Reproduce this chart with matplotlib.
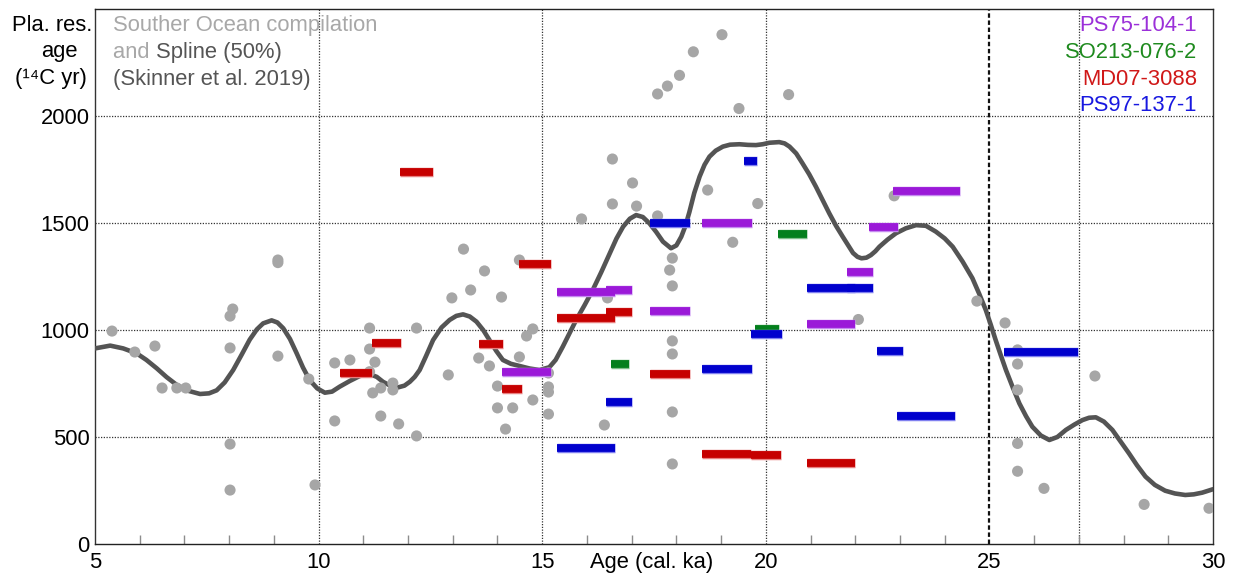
import matplotlib
matplotlib.use("Agg")
import matplotlib.pyplot as plt
import matplotlib.patheffects as pe
from matplotlib.ticker import MultipleLocator

# ---------------- data ----------------
dots_x = [5.38, 5.89, 6.34, 6.50, 6.83, 7.03, 8.02, 8.08, 8.02, 8.02, 8.02, 9.09, 9.09, 9.09,
          9.78, 9.92, 10.36, 10.70, 10.36, 11.14, 11.14, 11.26, 11.14, 11.21, 11.39, 11.39,
          11.66, 11.66, 11.79, 12.19, 12.19, 12.90, 12.98, 13.24, 13.40, 13.58, 13.71, 13.82,
          14.00, 14.00, 14.09, 14.18, 14.34, 14.49, 14.49, 14.65, 14.79, 14.79, 15.14, 15.14,
          15.14, 15.14, 15.88, 16.39, 16.46, 16.57, 16.57, 17.02, 17.11, 17.58, 17.58, 17.80,
          17.85, 17.91, 17.91, 17.91, 17.91, 17.91, 17.91, 18.07, 18.38, 19.02, 19.40, 20.51,
          18.70, 19.26, 19.82, 22.87, 22.07, 24.72, 25.35, 25.63, 25.63, 25.63, 25.63, 25.63,
          26.22, 27.36, 28.46, 29.91]
dots_y = [995, 897, 925, 729, 729, 729, 1065, 1098, 916, 467, 252, 1327, 1315, 878,
          771, 276, 846, 860, 575, 1009, 911, 850, 805, 706, 729, 598,
          752, 720, 561, 1009, 505, 790, 1150, 1378, 1187, 869, 1276, 832,
          738, 636, 1154, 537, 636, 1327, 874, 972, 1005, 673, 799, 734,
          710, 607, 1519, 556, 1150, 1799, 1589, 1687, 1579, 1533, 2103, 2140,
          1280, 1336, 1206, 949, 888, 617, 374, 2190, 2300, 2380, 2035, 2100,
          1654, 1410, 1591, 1627, 1049, 1135, 1033, 907, 841, 720, 470, 340,
          260, 785, 185, 167]

spline_x = [5.0, 5.34, 5.63, 5.93, 6.15, 6.38, 6.6, 6.83, 7.1, 7.35, 7.55, 7.72, 7.9, 8.09, 8.28,
            8.46, 8.62, 8.76, 8.95, 9.08, 9.21, 9.36, 9.51, 9.65, 9.8, 9.97, 10.14, 10.3, 10.47,
            10.7, 10.92, 11.14, 11.3, 11.44, 11.6, 11.78, 11.92, 12.04, 12.15, 12.26, 12.4,
            12.56, 12.75, 12.93, 13.08, 13.23, 13.38, 13.53, 13.68, 13.82, 13.97, 14.12, 14.3,
            14.49, 14.72, 14.94, 15.16, 15.3, 15.46, 15.6, 15.76, 15.95, 16.13, 16.32, 16.51,
            16.66, 16.81, 16.96, 17.1, 17.25, 17.4, 17.55, 17.7, 17.88, 18.0, 18.11, 18.2,
            18.29, 18.4, 18.52, 18.63, 18.74, 18.88, 19.04, 19.2, 19.41, 19.6, 19.78, 19.93,
            20.08, 20.3, 20.42, 20.53, 20.68, 20.82, 20.97, 21.12, 21.27, 21.42, 21.57, 21.72,
            21.85, 21.95, 22.05, 22.14, 22.25, 22.35, 22.45, 22.54, 22.72, 22.91, 23.13, 23.36,
            23.58, 23.8, 24.0, 24.18, 24.4, 24.62, 24.77, 24.92, 25.03, 25.14, 25.25, 25.37,
            25.52, 25.67, 25.82, 25.96, 26.15, 26.34, 26.52, 26.71, 26.9, 27.08, 27.23, 27.38,
            27.56, 27.75, 27.93, 28.12, 28.3, 28.49, 28.7, 28.93, 29.15, 29.38, 29.57, 29.76,
            30.0]
spline_y = [914, 927, 914, 891, 860, 821, 780, 743, 715, 701, 704, 718, 755, 813, 885,
            955, 1003, 1031, 1045, 1035, 1008, 958, 891, 825, 766, 727, 707, 712, 735,
            762, 785, 794, 781, 758, 740, 732, 740, 758, 781, 813, 877,
            953, 1012, 1047, 1066, 1073, 1063, 1039, 1000, 953, 903, 860, 842,
            832, 820, 813, 826, 860, 922, 980, 1047, 1117, 1187, 1270, 1358,
            1427, 1483, 1520, 1537, 1528, 1498, 1458, 1413, 1382, 1395, 1436, 1485,
            1550, 1640, 1717, 1772, 1810, 1838, 1857, 1866, 1868, 1865, 1864, 1868,
            1875, 1878, 1872, 1857, 1825, 1779, 1728, 1670, 1608, 1545, 1487, 1436,
            1393, 1360, 1342, 1335, 1338, 1350, 1368, 1389, 1422, 1452, 1475, 1490,
            1487, 1460, 1428, 1389, 1320, 1242, 1170, 1093, 1025, 953, 885, 813,
            733, 657, 597, 548, 507, 486, 500, 533, 558, 579, 590, 592,
            572, 533, 480, 424, 368, 315, 276, 249, 236, 229, 232, 240,
            256]

# bars: (start, end, value)
purple_x0 = [14.09, 15.34, 16.43, 17.41, 18.57, 20.93, 21.81, 22.31, 22.85]
purple_x1 = [15.19, 16.62, 17.01, 18.31, 19.69, 21.99, 22.40, 22.96, 24.34]
purple_y = [805, 1176, 1185, 1087, 1500, 1029, 1273, 1479, 1650]

green_x0 = [16.54, 19.75, 20.28]
green_x1 = [16.95, 20.29, 20.93]
green_y = [842, 1005, 1450]

red_x0 = [10.47, 11.20, 11.81, 13.58, 14.09, 14.49, 15.34, 16.43, 17.41, 18.57, 19.66, 20.93]
red_x1 = [11.20, 11.85, 12.56, 14.12, 14.54, 15.19, 16.62, 17.01, 18.31, 19.66, 20.35, 21.99]
red_y = [801, 939, 1738, 936, 723, 1307, 1055, 1083, 794, 420, 416, 380]

blue_x0 = [15.34, 16.43, 17.41, 19.52, 18.57, 19.68, 20.93, 21.81, 22.49, 22.94, 25.33]
blue_x1 = [16.62, 17.01, 18.31, 19.80, 19.69, 20.37, 21.99, 22.40, 23.07, 24.22, 26.99]
blue_y = [449, 664, 1499, 1790, 816, 982, 1195, 1195, 904, 600, 896]

series_names = ["PS75-104-1", "SO213-076-2", "MD07-3088", "PS97-137-1"]
x_ticks = [5, 10, 15, 20, 25, 30]
y_ticks = [0, 500, 1000, 1500, 2000]

# ---------------- figure ----------------
W, H = 1244, 578
FONT = ["Liberation Sans", "DejaVu Sans"]
plt.rcParams["font.family"] = FONT
FS = 15.8

fig = plt.figure(figsize=(W / 100, H / 100), dpi=100)
ax = fig.add_axes([95 / W, (H - 544) / H, 1118 / W, 535 / H])
ax.set_xlim(5, 30)
ax.set_ylim(0, 2500)

# grid
for yv in [500, 1000, 1500, 2000]:
    ax.axhline(yv, color="#333333", lw=0.9, ls=(0, (1, 1.2)), zorder=1)
for xv in [10, 15, 20, 27]:
    ax.axvline(xv, color="#333333", lw=0.9, ls=(0, (1, 1.2)), zorder=1)
ax.axvline(25, color="#111111", lw=1.6, ls=(0, (2, 1.2)), zorder=1)

# spline
ax.plot(spline_x, spline_y, color="#545454", lw=3.3, solid_capstyle="round",
        solid_joinstyle="round", zorder=3)

# dots
ax.scatter(dots_x, dots_y, s=64, color="#A6A6A6", edgecolors="none", zorder=4)

# bars
bar_sets = [
    (purple_x0, purple_x1, purple_y, "#9B19D8", "#C58AF0"),
    (green_x0, green_x1, green_y, "#037F1C", "#7FBF8A"),
    (red_x0, red_x1, red_y, "#C60000", "#E88080"),
    (blue_x0, blue_x1, blue_y, "#0000CD", "#8080F0"),
]
for k, (x0, x1, yy, col, edge) in enumerate(bar_sets):
    ax.hlines(yy, x0, x1, colors=col, lw=5.6, capstyle="butt", zorder=5 + k,
              path_effects=[pe.Stroke(linewidth=6.8, foreground=edge, capstyle="butt"),
                            pe.Normal()])

# spines
for s in ["top", "bottom"]:
    ax.spines[s].set_linestyle((0, (1, 1)))
    ax.spines[s].set_color("#222222")
    ax.spines[s].set_linewidth(1.0)
for s in ["left", "right"]:
    ax.spines[s].set_color("#333333")
    ax.spines[s].set_linewidth(1.0)

# ticks
ax.set_xticks(x_ticks)
ax.set_xticklabels([str(v) for v in x_ticks])
ax.set_yticks(y_ticks)
ax.set_yticklabels([str(v) for v in y_ticks])
ax.xaxis.set_minor_locator(MultipleLocator(1))
ax.tick_params(axis="x", which="major", length=0, pad=6, labelsize=FS)
ax.tick_params(axis="x", which="minor", direction="in", length=6.5, width=1.0,
               color="#8C8C8C")
ax.tick_params(axis="y", which="both", length=0, pad=4, labelsize=FS)


def fx(px):
    return px / W


def fy(py):
    return 1 - py / H


# y-axis label (three lines)
fig.text(fx(52), fy(31), "Pla. res.", ha="center", va="baseline", fontsize=FS)
fig.text(fx(59), fy(57.5), "age", ha="center", va="baseline", fontsize=FS)
fig.text(fx(51), fy(84), "(\u00b9\u2074C yr)", ha="center", va="baseline", fontsize=FS)

# x-axis label
fig.text(fx(652), fy(568), "Age (cal. ka)", ha="center", va="baseline", fontsize=FS)

# top-left annotation
light = "#A8A8A8"
dark = "#555555"
fig.text(fx(113), fy(31), "Souther Ocean compilation", ha="left", va="baseline",
         fontsize=FS, color=light)
t_and = fig.text(fx(113), fy(58), "and ", ha="left", va="baseline", fontsize=FS,
                 color=light)
fig.canvas.draw()
r = fig.canvas.get_renderer()
bb = t_and.get_window_extent(renderer=r)
fig.text(bb.x1 / W, fy(58), "Spline (50%)", ha="left", va="baseline", fontsize=FS,
         color=dark)
fig.text(fx(113), fy(84.5), "(Skinner et al. 2019)", ha="left", va="baseline",
         fontsize=FS, color=dark)

# series labels
legend_colors = ["#9B30D9", "#1E8A1E", "#D01818", "#1818E0"]
for i, (name, c) in enumerate(zip(series_names, legend_colors)):
    fig.text(fx(1197), fy(31 + 26.8 * i), name, ha="right", va="baseline",
             fontsize=FS, color=c)

fig.savefig("out.png", dpi=100)
